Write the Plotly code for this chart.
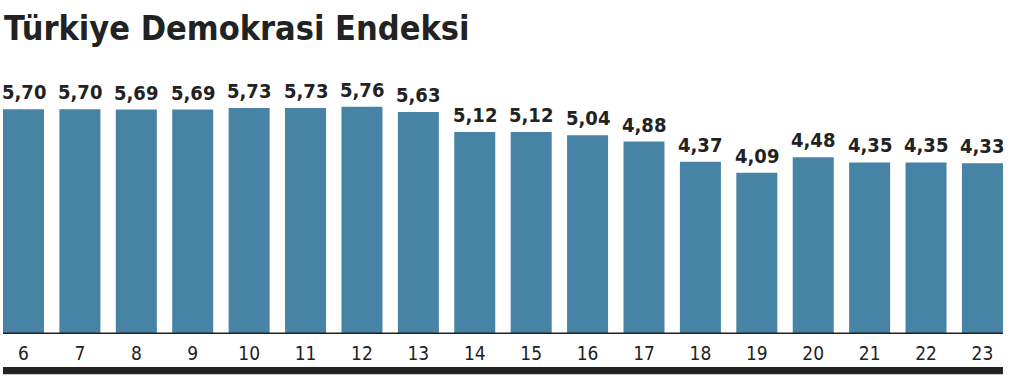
import plotly.graph_objects as go

years = ["6", "7", "8", "9", "10", "11", "12", "13", "14", "15", "16", "17", "18", "19", "20", "21", "22", "23"]
scores = [5.70, 5.70, 5.69, 5.69, 5.73, 5.73, 5.76, 5.63, 5.12, 5.12, 5.04, 4.88, 4.37, 4.09, 4.48, 4.35, 4.35, 4.33]
title_text = "Türkiye Demokrasi Endeksi"

BAR = "#4683a4"
INK = "#222222"
FONT = "DejaVu Sans Condensed"

labels = [f"{v:.2f}".replace(".", ",") for v in scores]
xs = list(range(len(years)))

fig = go.Figure(go.Bar(
    x=xs, y=scores, width=0.727,
    marker=dict(color=BAR, line=dict(width=0)),
    hoverinfo="skip",
))

for x, v, t in zip(xs, scores, labels):
    fig.add_annotation(x=x, y=v, text=t, xref="x", yref="y", showarrow=False,
                       xanchor="center", yanchor="bottom", yshift=3,
                       font=dict(family=FONT, size=20, color=INK, weight="bold"))

n = len(years)
fig.add_shape(type="line", xref="x", yref="y", x0=-0.3635, x1=n - 1 + 0.3635, y0=0, y1=0,
              line=dict(color=INK, width=3))
fig.add_shape(type="rect", xref="x", yref="paper", x0=-0.3635, x1=n - 1 + 0.3635,
              y0=-0.158, y1=-0.130, fillcolor=INK, line=dict(width=0))

fig.add_annotation(text=title_text, xref="paper", yref="paper", x=0.0, y=1.0,
                   xanchor="left", yanchor="bottom", showarrow=False, xshift=2, yshift=30,
                   font=dict(family=FONT, size=34, color=INK, weight="bold"))

fig.update_layout(
    width=1030, height=390,
    margin=dict(l=0, r=0, t=80, b=56),
    paper_bgcolor="white", plot_bgcolor="white",
    showlegend=False,
    xaxis=dict(range=[-0.4166, 17.843], tickvals=xs, ticktext=years, showgrid=False,
               zeroline=False, showline=False, ticks="", ticklabelstandoff=6,
               tickfont=dict(family=FONT, size=19, color=INK)),
    yaxis=dict(range=[0, 6.44], visible=False, showgrid=False, zeroline=False),
)

fig.write_html("out.html")
